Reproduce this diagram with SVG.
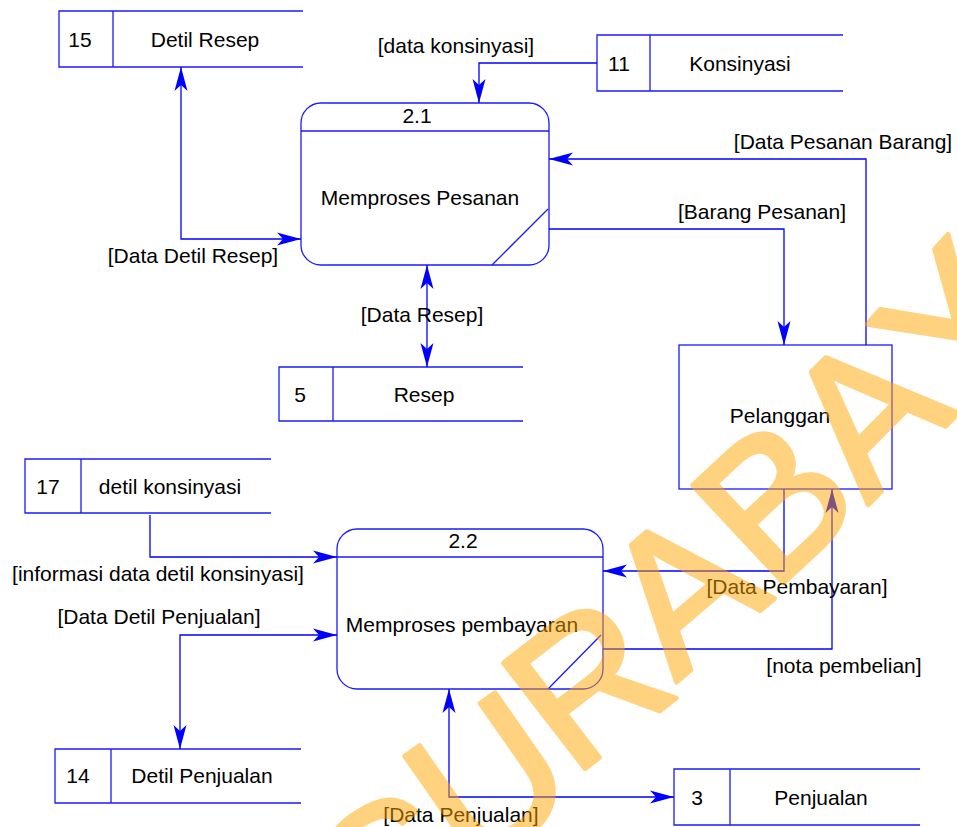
<svg xmlns="http://www.w3.org/2000/svg" width="957" height="827" viewBox="0 0 957 827">
<defs>
<style>
text{font-family:"Liberation Sans",Arial,sans-serif;font-size:21px;fill:#000}
.c{text-anchor:middle}
.s{fill:none;stroke:#1a1aff;stroke-width:1.3}
.ln{fill:none;stroke:#0000ff;stroke-width:1.3}
#watermark text{font-size:194px;fill:#ffa500;stroke:#ffa500;stroke-width:5;stroke-linejoin:round}
</style>
<marker id="ah" viewBox="-25 -8 26 16" refX="0" refY="0" markerWidth="26" markerHeight="16" markerUnits="userSpaceOnUse" orient="auto-start-reverse">
<path d="M0,0 L-24,-6.5 L-18,0 L-24,6.5 Z" fill="#0000ff"/>
</marker>
</defs>
<rect width="957" height="827" fill="#fff"/>

<g id="store15">
<path class="s" d="M303,11 H59 V67 H303 M113,11 V67"/>
<text class="c" x="80" y="47">15</text>
<text class="c" x="205" y="47">Detil Resep</text>
</g>
<g id="store11">
<path class="s" d="M843,35 H597 V91 H843 M650,35 V91"/>
<text class="c" x="619" y="71">11</text>
<text class="c" x="740" y="71">Konsinyasi</text>
</g>
<g id="proc21">
<rect class="s" x="301" y="103" width="248" height="162" rx="20" ry="20"/>
<path class="s" d="M301,131 H549 M548,209 L492,265"/>
<text class="c" x="417" y="123">2.1</text>
<text class="c" x="420" y="205">Memproses Pesanan</text>
</g>
<g id="store5">
<path class="s" d="M523,367 H279 V421 H523 M333,367 V421"/>
<text class="c" x="300" y="402">5</text>
<text class="c" x="424" y="402">Resep</text>
</g>
<g id="pelanggan">
<rect class="s" x="679" y="345" width="213" height="144"/>
<text class="c" x="780" y="423">Pelanggan</text>
</g>
<g id="store17">
<path class="s" d="M271,459 H25 V513 H271 M81,459 V513"/>
<text class="c" x="48" y="494">17</text>
<text class="c" x="170" y="494">detil konsinyasi</text>
</g>
<g id="proc22">
<rect class="s" x="337" y="529" width="266" height="160" rx="20" ry="20"/>
<path class="s" d="M337,557 H603 M601,635 L548,689"/>
<text class="c" x="463" y="548">2.2</text>
<text class="c" x="462" y="632">Memproses pembayaran</text>
</g>
<g id="store14">
<path class="s" d="M301,749 H55 V803 H301 M111,749 V803"/>
<text class="c" x="78" y="783">14</text>
<text class="c" x="202" y="783">Detil Penjualan</text>
</g>
<g id="store3">
<path class="s" d="M920,769 H674 V825 H920 M730,769 V825"/>
<text class="c" x="697" y="805">3</text>
<text class="c" x="821" y="805">Penjualan</text>
</g>

<g id="connectors">
<path class="ln" d="M597,63 H479 V103" marker-end="url(#ah)"/>
<path class="ln" d="M181,67 V239 H301" marker-start="url(#ah)" marker-end="url(#ah)"/>
<path class="ln" d="M427,265 V367" marker-start="url(#ah)" marker-end="url(#ah)"/>
<path class="ln" d="M866,345 V159 H549" marker-end="url(#ah)"/>
<path class="ln" d="M549,229 H784 V345" marker-end="url(#ah)"/>
<path class="ln" d="M784,489 V571 H603" marker-end="url(#ah)"/>
<path class="ln" d="M603,649 H832 V489" marker-end="url(#ah)"/>
<path class="ln" d="M150,515 V557 H337" marker-end="url(#ah)"/>
<path class="ln" d="M180,749 V635 H337" marker-start="url(#ah)" marker-end="url(#ah)"/>
<path class="ln" d="M449,689 V797 H674" marker-start="url(#ah)" marker-end="url(#ah)"/>
<text class="c" x="456" y="53">[data konsinyasi]</text>
<text class="c" x="193" y="263">[Data Detil Resep]</text>
<text class="c" x="422" y="322">[Data Resep]</text>
<text class="c" x="843" y="149">[Data Pesanan Barang]</text>
<text class="c" x="762" y="219">[Barang Pesanan]</text>
<text class="c" x="797" y="594">[Data Pembayaran]</text>
<text class="c" x="844" y="673">[nota pembelian]</text>
<text class="c" x="158" y="581">[informasi data detil konsinyasi]</text>
<text class="c" x="159" y="624">[Data Detil Penjualan]</text>
<text class="c" x="461" y="822">[Data Penjualan]</text>
</g>

<g id="watermark" opacity="0.5">
<text transform="translate(373.3,962.6) rotate(-32.5)">S</text>
<text transform="translate(469,874) rotate(-35)">U</text>
<text transform="translate(572.6,778.2) rotate(-37.7)">R</text>
<text transform="translate(676.3,682.3) rotate(-40.5)">A</text>
<text transform="translate(772,593.8) rotate(-43)">B</text>
<text transform="translate(868,505) rotate(-45.5)">A</text>
<text transform="translate(963.4,416.8) rotate(-48)">Y</text>
</g>
</svg>
